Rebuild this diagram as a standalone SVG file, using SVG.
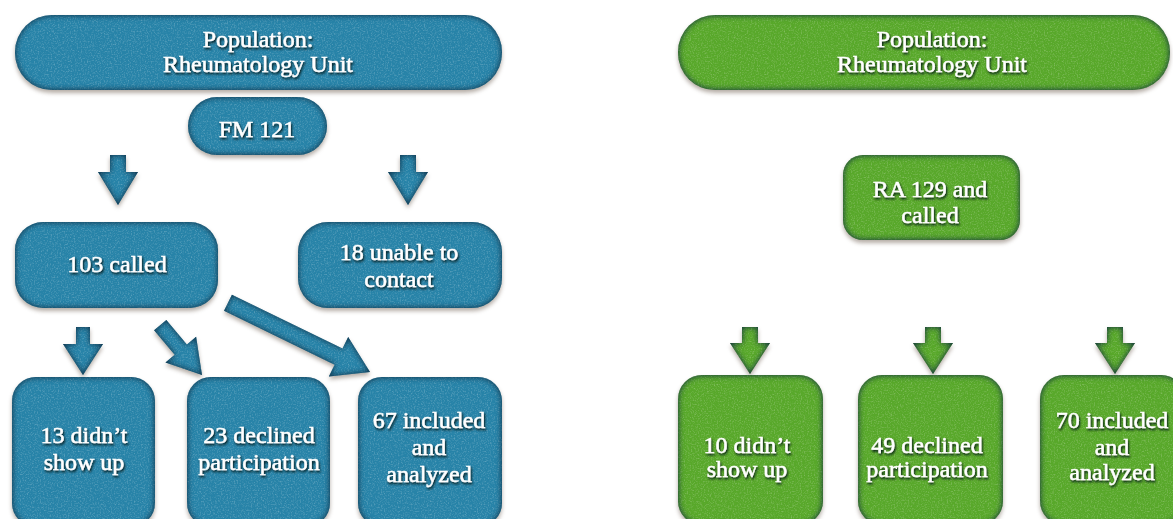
<svg xmlns="http://www.w3.org/2000/svg" width="1173" height="519" viewBox="0 0 1173 519">
  <defs>
    <style>
      .blue { fill: #2783a8; }
      .green { fill: #58a82a; }
      .shape { filter: url(#boxfx); }
      .lbl { font-family: "Liberation Serif", "Times New Roman", serif; font-size: 24px; fill: #ffffff; stroke: #ffffff; stroke-width: 0.45; text-anchor: middle; filter: url(#txtfx); }
    </style>
    <!-- shaded box: soft drop shadow, light speckle, dark inner rim -->
    <filter id="boxfx" x="-10%" y="-15%" width="120%" height="140%" color-interpolation-filters="sRGB">
      <feGaussianBlur in="SourceAlpha" stdDeviation="2" result="sb"/>
      <feOffset in="sb" dy="3" result="so"/>
      <feFlood flood-color="#5a4a3a" flood-opacity="0.45"/>
      <feComposite in2="so" operator="in" result="shadow"/>
      <feTurbulence type="fractalNoise" baseFrequency="0.7" numOctaves="2" seed="4" result="noise"/>
      <feColorMatrix in="noise" type="matrix" values="0 0 0 0 1  0 0 0 0 1  0 0 0 0 1  0.6 0 0 0 -0.28" result="speck"/>
      <feComposite in="speck" in2="SourceAlpha" operator="in" result="grain"/>
      <feGaussianBlur in="SourceAlpha" stdDeviation="3" result="ib"/>
      <feComposite in="SourceAlpha" in2="ib" operator="out" result="rim"/>
      <feFlood flood-color="#0c2a40" flood-opacity="1"/>
      <feComposite in2="rim" operator="in" result="rimc"/>
      <feMerge>
        <feMergeNode in="shadow"/>
        <feMergeNode in="SourceGraphic"/>
        <feMergeNode in="grain"/>
        <feMergeNode in="rimc"/>
      </feMerge>
    </filter>
    <!-- embossed label text -->
    <filter id="txtfx" x="-10%" y="-30%" width="120%" height="160%">
      <feDropShadow dx="1" dy="1.8" stdDeviation="1.1" flood-color="#061218" flood-opacity="1"/>
    </filter>
  </defs>

  <rect width="1173" height="519" fill="#ffffff"/>

  <!-- connectors -->
  <g id="connectors">
    <g class="blue shape">
      <path d="M-8,-50 H8 V-33 H20 L0,0 L-20,-33 H-8 Z" transform="translate(118,205)"/>
      <path d="M-8,-50 H8 V-33 H20 L0,0 L-20,-33 H-8 Z" transform="translate(408,205)"/>
      <path d="M-7,-48 H7 V-31 H20 L0,0 L-20,-31 H-7 Z" transform="translate(83,375)"/>
      <path d="M-8,-65 H8 V-33 H20 L0,0 L-20,-33 H-8 Z" transform="translate(202,375) rotate(-40)"/>
      <path d="M-9,-158 H9 V-35 H22 L0,0 L-22,-35 H-9 Z" transform="translate(370,372) rotate(-64)"/>
    </g>
    <g class="green shape">
      <path d="M-8,-47 H8 V-31 H20 L0,0 L-20,-31 H-8 Z" transform="translate(750,374)"/>
      <path d="M-8,-47 H8 V-31 H20 L0,0 L-20,-31 H-8 Z" transform="translate(933,374)"/>
      <path d="M-8,-47 H8 V-31 H20 L0,0 L-20,-31 H-8 Z" transform="translate(1115,374)"/>
    </g>
  </g>

  <!-- left flow: FM -->
  <g id="fm-population">
    <rect class="blue shape" x="15" y="15" width="487" height="75" rx="37"/>
    <text class="lbl" x="258" y="47">Population:</text>
    <text class="lbl" x="258" y="72">Rheumatology Unit</text>
  </g>
  <g id="fm-121">
    <rect class="blue shape" x="188" y="97" width="139" height="58" rx="29"/>
    <text class="lbl" x="257" y="137">FM 121</text>
  </g>
  <g id="fm-called">
    <rect class="blue shape" x="15" y="222" width="203" height="86" rx="28"/>
    <text class="lbl" x="117" y="272">103 called</text>
  </g>
  <g id="fm-unable">
    <rect class="blue shape" x="298" y="222" width="204" height="86" rx="30"/>
    <text class="lbl" x="399" y="260">18 unable to</text>
    <text class="lbl" x="399" y="287">contact</text>
  </g>
  <g id="fm-noshow">
    <rect class="blue shape" x="12" y="377" width="143" height="150" rx="24"/>
    <text class="lbl" x="84" y="443">13 didn’t</text>
    <text class="lbl" x="84" y="470">show up</text>
  </g>
  <g id="fm-declined">
    <rect class="blue shape" x="187" y="377" width="143" height="150" rx="24"/>
    <text class="lbl" x="259" y="443">23 declined</text>
    <text class="lbl" x="259" y="470">participation</text>
  </g>
  <g id="fm-included">
    <rect class="blue shape" x="358" y="377" width="144" height="150" rx="24"/>
    <text class="lbl" x="429" y="428">67 included</text>
    <text class="lbl" x="429" y="455">and</text>
    <text class="lbl" x="429" y="482">analyzed</text>
  </g>

  <!-- right flow: RA -->
  <g id="ra-population">
    <rect class="green shape" x="678" y="15" width="492" height="75" rx="37"/>
    <text class="lbl" x="932" y="47">Population:</text>
    <text class="lbl" x="932" y="72">Rheumatology Unit</text>
  </g>
  <g id="ra-129">
    <rect class="green shape" x="843" y="155" width="177" height="85" rx="20"/>
    <text class="lbl" x="930" y="197">RA 129 and</text>
    <text class="lbl" x="930" y="223">called</text>
  </g>
  <g id="ra-noshow">
    <rect class="green shape" x="678" y="375" width="145" height="150" rx="24"/>
    <text class="lbl" x="747" y="453">10 didn’t</text>
    <text class="lbl" x="747" y="477">show up</text>
  </g>
  <g id="ra-declined">
    <rect class="green shape" x="858" y="375" width="145" height="150" rx="24"/>
    <text class="lbl" x="927" y="453">49 declined</text>
    <text class="lbl" x="927" y="477">participation</text>
  </g>
  <g id="ra-included">
    <rect class="green shape" x="1040" y="375" width="145" height="150" rx="24"/>
    <text class="lbl" x="1112" y="428">70 included</text>
    <text class="lbl" x="1112" y="455">and</text>
    <text class="lbl" x="1112" y="480">analyzed</text>
  </g>
</svg>
